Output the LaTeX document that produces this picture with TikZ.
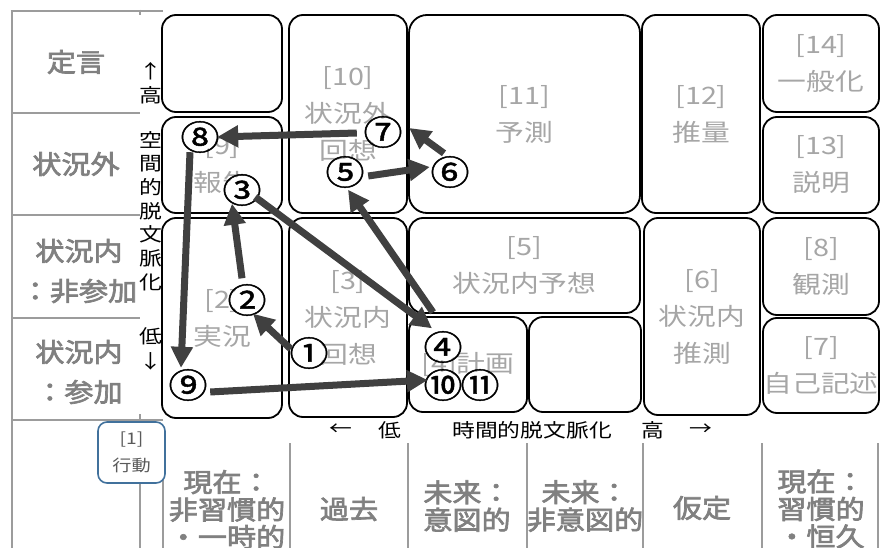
\documentclass[tikz,border=0pt]{standalone}
\usepackage{fontspec}
\usetikzlibrary{arrows.meta,shapes.geometric}
\newfontfamily\jbox[FakeStretch=1.2]{Noto Sans CJK JP}
\newfontfamily\jtbl[FakeStretch=1.12,FakeBold=2.6]{Noto Sans CJK JP}
\newfontfamily\jax[FakeStretch=1.2]{Noto Sans CJK JP}
\newfontfamily\jnum[FakeStretch=1.15,FakeBold=1.2]{Noto Sans CJK JP}
\definecolor{boxtxt}{HTML}{A6A6A6}
\definecolor{tbltxt}{HTML}{808080}
\definecolor{gridc}{HTML}{9C9C9C}
\definecolor{arrc}{HTML}{404040}
\definecolor{bluec}{HTML}{41719C}
\definecolor{acttxt}{HTML}{5A5A5A}
\newcommand\numtxt[1]{\makebox[0pt]{\smash{\raisebox{-0.38em}{#1}}}}
\tikzset{
  cell/.style={draw=black, line width=1.8pt, rounded corners=14pt, fill=white,
    inner sep=0pt, align=center, text=boxtxt, font=\jbox\fontsize{24}{37}\selectfont},
  gridline/.style={draw=gridc, line width=2.8pt},
  tbl/.style={inner sep=0pt, align=center, text=tbltxt, font=\jtbl\fontsize{26}{40}\selectfont},
  tblb/.style={inner sep=0pt, align=center, text=tbltxt, font=\jtbl\fontsize{26}{27.5}\selectfont},
  axlab/.style={inner sep=0pt, align=center, text=black, font=\jax\fontsize{19}{23.7}\selectfont},
  actbox/.style={draw=bluec, line width=1.6pt, rounded corners=9pt, fill=white,
    inner sep=0pt, align=center, text=acttxt, font=\jbox\fontsize{16}{27}\selectfont},
  num/.style={ellipse, fill=white, inner sep=0pt, minimum width=32pt, minimum height=27pt,
    font=\jnum\fontsize{34}{34}\selectfont},
  conn/.style={draw=arrc, line width=7pt, -{Triangle[length=21pt,width=21pt]}}
}
\begin{document}
\begin{tikzpicture}[x=1pt,y=-1pt]
\useasboundingbox (0,0) rectangle (880,548);
% left and bottom table grid
\draw[gridline] (12,11) -- (12,548);
\draw[gridline] (140,9.6) -- (140,15);
\draw[gridline] (140,414) -- (140,548);
\draw[gridline] (10.6,11) -- (163,11);
\draw[gridline] (12,113) -- (140,113);
\draw[gridline] (12,215) -- (140,215);
\draw[gridline] (12,318) -- (140,318);
\draw[gridline] (12,420) -- (163,420);
\foreach \gx in {163,290,408,527,643,762,878}{\draw[gridline] (\gx,443) -- (\gx,548);}
% row labels
\node[tbl] (r1) at (76,62) {定言};
\node[tbl] (r2) at (76,164) {状況外};
\node[tbl] (r3) at (79,271) {状況内\\：非参加};
\node[tbl] (r4) at (79,372) {状況内\\：参加};
% column labels
\node[tblb] (t1) at (227,509.5) {現在：\\非習慣的\\・一時的};
\node[tblb] (t2) at (349,509) {過去};
\node[tblb] (t3) at (467,506) {未来：\\意図的};
\node[tblb] (t4) at (585,506) {未来：\\非意図的};
\node[tblb] (t5) at (702,508) {仮定};
\node[tblb] (t6) at (821,509) {現在：\\習慣的\\・恒久};
% axis labels
\node[axlab] (vup) at (151,71) {↑};
\node[axlab] (vhi) at (151,95) {高};
\node[axlab] (vname) at (151,211) {空\\間\\的\\脱\\文\\脈\\化};
\node[axlab] (vlo) at (151,336) {低};
\node[axlab] (vdn) at (151,361) {↓};
\node[axlab] (hl) at (341,430) {←};
\node[axlab] (hlo) at (390,430) {低};
\node[axlab] (hname) at (532,430) {時間的脱文脈化};
\node[axlab] (hhi) at (653,430) {高};
\node[axlab] (hr) at (701,430) {→};
% cells
\node[cell, minimum width=120pt, minimum height=97pt] (bA) at (222,63.5) {};
\node[cell, minimum width=118pt, minimum height=198pt] (b10) at (348,114) {[10]\\状況外\\回想};
\node[cell, minimum width=231pt, minimum height=198pt, rounded corners=18pt] (b11) at (524.5,114) {[11]\\予測};
\node[cell, minimum width=118pt, minimum height=198pt] (b12) at (701,114) {[12]\\推量};
\node[cell, minimum width=116pt, minimum height=97pt] (b14) at (821,63.5) {[14]\\一般化};
\node[cell, minimum width=120pt, minimum height=96pt] (b9) at (222,165) {[9]\\報告};
\node[cell, minimum width=116pt, minimum height=96pt] (b13) at (821,165) {[13]\\説明};
\node[cell, minimum width=120pt, minimum height=200pt] (b2) at (222,318) {[2]\\実況};
\node[cell, minimum width=118pt, minimum height=199pt] (b3) at (348,317.5) {[3]\\状況内\\回想};
\node[cell, minimum width=231pt, minimum height=95pt] (b5) at (524.5,265.5) {[5]\\状況内予想};
\node[cell, minimum width=118pt, minimum height=95pt] (b4) at (468,364.5) {[4]計画};
\node[cell, minimum width=112pt, minimum height=95pt] (bE) at (585,364.5) {};
\node[cell, minimum width=116pt, minimum height=197pt] (b6) at (702,316.5) {[6]\\状況内\\推測};
\node[cell, minimum width=116pt, minimum height=97pt] (b8) at (821,266.5) {[8]\\観測};
\node[cell, minimum width=116pt, minimum height=95pt] (b7) at (821,365.5) {[7]\\自己記述};
% action box
\node[actbox, minimum width=67pt, minimum height=61pt] (act) at (131.5,452.5) {[1]\\行動};
% circled numbers
\node[num] (c1) at (309,353) {\numtxt{①}};
\node[num] (c2) at (247,300) {\numtxt{②}};
\node[num] (c3) at (242,190) {\numtxt{③}};
\node[num] (c4) at (443,347) {\numtxt{④}};
\node[num] (c5) at (345,172) {\numtxt{⑤}};
\node[num] (c6) at (450,172) {\numtxt{⑥}};
\node[num] (c7) at (383,132) {\numtxt{⑦}};
\node[num] (c8) at (200,137) {\numtxt{⑧}};
\node[num] (c9) at (188,385) {\numtxt{⑨}};
\node[num] (c10) at (443,385) {\numtxt{⑩}};
\node[num] (c11) at (480,385) {\numtxt{⑪}};
% connectors
\draw[conn] ([xshift=-2pt,yshift=4pt]c1.west) -- ([xshift=6pt]c2.south);
\draw[conn] ([xshift=-5pt,yshift=8pt]c2.north) -- ([xshift=-10pt]c3.south);
\draw[conn] ([xshift=-3pt,yshift=-7pt]c3.east) -- ([xshift=-11pt,yshift=5pt]c4.north);
\draw[conn] ([xshift=-10pt,yshift=21pt]c4.north) -- ([xshift=3pt,yshift=-4pt]c5.south);
\draw[conn] ([xshift=7pt,yshift=-4pt]c5.east) -- ([xshift=-4pt,yshift=5pt]c6.west);
\draw[conn] ([xshift=-6pt,yshift=5pt]c6.north) -- ([xshift=10pt,yshift=4pt]c7.east);
\draw[conn] ([xshift=-10pt,yshift=-1pt]c7.west) -- ([xshift=1pt]c8.east);
\draw[conn] ([xshift=-10pt,yshift=-1.5pt]c8.south) -- ([xshift=-7pt,yshift=3.5pt]c9.north);
\draw[conn] ([xshift=6pt,yshift=-7pt]c9.east) -- ([xshift=1pt,yshift=5pt]c10.west);
\end{tikzpicture}
\end{document}
